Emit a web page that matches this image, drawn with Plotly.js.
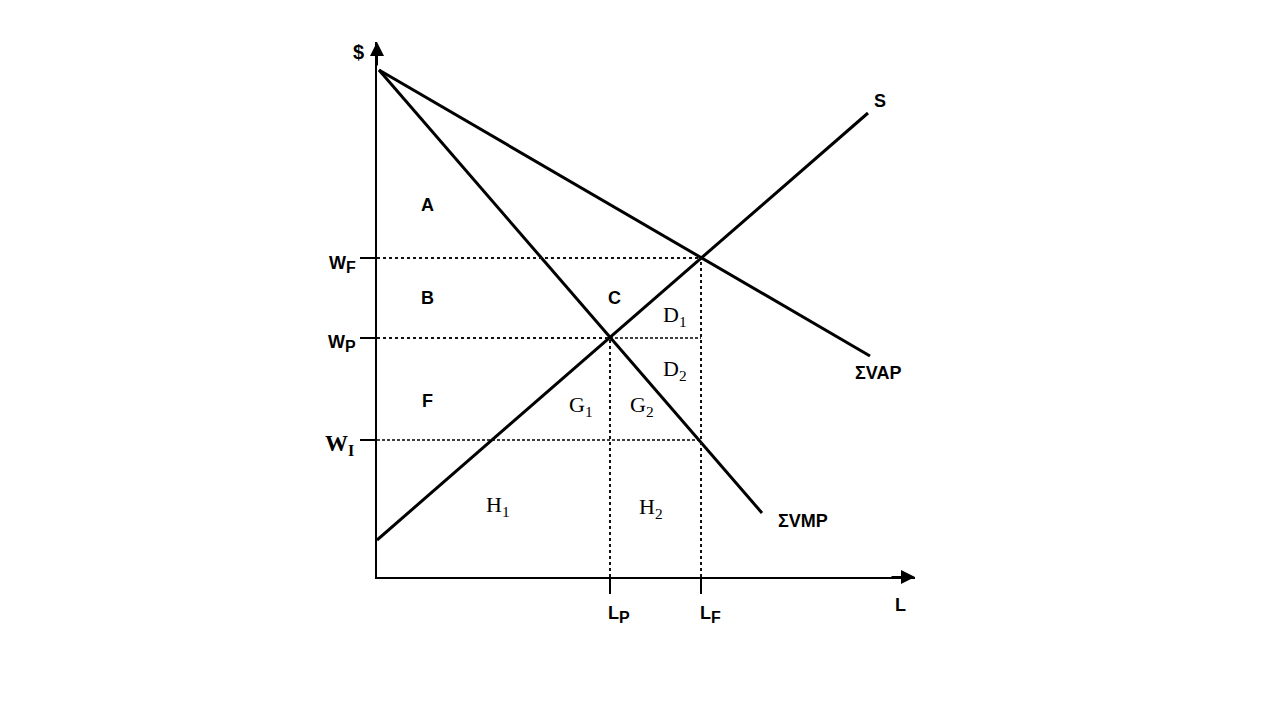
<!DOCTYPE html>
<html>
<head>
<meta charset="utf-8">
<script src="https://cdn.plot.ly/plotly-3.0.1.min.js"></script>
<style>html,body{margin:0;padding:0;background:#fff;}#chart{width:1280px;height:720px;}</style>
</head>
<body>
<div id="chart"></div>
<script>
// Wage levels ($ axis) and labour quantities (L axis), in chart units
const wageLevels = {WF: 6.38, WP: 4.78, WI: 2.74};
const laborLevels = {LP: 4.66, LF: 6.48};
const yTickLabels = ['W<sub>I</sub>', 'W<sub>P</sub>', 'W<sub>F</sub>'];
const xTickLabels = ['L<sub>P</sub>', 'L<sub>F</sub>'];

// Curves (two end points each)
const vapX = [0.04, 9.86];
const vapY = [10.14, 4.42];
const vmpX = [0.04, 7.7];
const vmpY = [10.14, 1.28];
const supX = [0.0, 9.82];
const supY = [0.74, 9.28];

const axisMaxX = 10.76;
const axisMaxY = 10.7;

const WF = wageLevels.WF, WP = wageLevels.WP, WI = wageLevels.WI;
const LP = laborLevels.LP, LF = laborLevels.LF;

const solid = {color: '#000', width: 3};
const dotted = {color: '#111', width: 2, dash: 'dot'};
const fine = {color: '#000', width: 1.5, dash: '3px,2px'};

const traces = [
  {x: vapX, y: vapY, mode: 'lines', line: solid},
  {x: vmpX, y: vmpY, mode: 'lines', line: solid},
  {x: supX, y: supY, mode: 'lines', line: solid},
  {x: [0, LF], y: [WF, WF], mode: 'lines', line: dotted},
  {x: [0, LP], y: [WP, WP], mode: 'lines', line: dotted},
  {x: [LP, LF], y: [WP, WP], mode: 'lines', line: fine},
  {x: [0, LF], y: [WI, WI], mode: 'lines', line: fine},
  {x: [LP, LP], y: [0, WP], mode: 'lines', line: dotted},
  {x: [LF, LF], y: [0, WF], mode: 'lines', line: dotted}
].map(t => Object.assign(t, {hoverinfo: 'skip', showlegend: false, cliponaxis: false}));

const sans = {family: 'Liberation Sans, Arial, sans-serif', size: 18, color: '#000', weight: 'bold'};
const sansBig = {family: 'Liberation Sans, Arial, sans-serif', size: 20, color: '#000', weight: 'bold'};
const serif = {family: 'Liberation Serif, Times New Roman, serif', size: 22, color: '#000'};
const serifBold = {family: 'Liberation Serif, Times New Roman, serif', size: 23, color: '#000', weight: 'bold'};

function bigSub(label) {
  // enlarge the subscript letter as in the reference
  return label.replace(/<sub>(.*?)<\/sub>/, '<sub><span style="font-size:16px">$1</span></sub>');
}

// labels placed in paper units converted from chart units (so they may sit outside the axes)
function lab(text, x, y, font, xanchor) {
  return {text: text, x: x / axisMaxX, y: y / axisMaxY, xref: 'paper', yref: 'paper', showarrow: false,
          font: font, xanchor: xanchor || 'center', yanchor: 'middle'};
}

const annotations = [
  lab('$', -0.38, 10.5, sansBig),
  lab('A', 1.0, 7.44, sans),
  lab('B', 1.0, 5.58, sans),
  lab('F', 1.0, 3.52, sans),
  lab('C', 4.74, 5.58, sans),
  lab('D<sub>1</sub>', 5.96, 5.22, serif),
  lab('D<sub>2</sub>', 5.96, 4.14, serif),
  lab('G<sub>1</sub>', 4.08, 3.42, serif),
  lab('G<sub>2</sub>', 5.3, 3.42, serif),
  lab('H<sub>1</sub>', 2.42, 1.42, serif),
  lab('H<sub>2</sub>', 5.48, 1.38, serif),
  lab('S', 10.06, 9.52, sans),
  lab('ΣVAP', 10.02, 4.08, sans),
  lab('ΣVMP', 8.52, 1.12, sans),
  lab(bigSub(yTickLabels[2]), -0.38, WF - 0.12, sans, 'right'),
  lab(bigSub(yTickLabels[1]), -0.38, WP - 0.12, sans, 'right'),
  lab(yTickLabels[0], -0.42, WI - 0.1, serifBold, 'right'),
  lab(bigSub(xTickLabels[0]), LP + 0.18, -0.74, sans),
  lab(bigSub(xTickLabels[1]), LF + 0.18, -0.74, sans),
  lab('L', 10.46, -0.56, sans),
  {x: axisMaxX, y: 0, ax: axisMaxX - 0.5, ay: 0, xref: 'x', yref: 'y', axref: 'x', ayref: 'y',
   text: '', showarrow: true, arrowhead: 2, arrowsize: 1.4, arrowwidth: 2, arrowcolor: '#000'},
  {x: 0, y: axisMaxY, ax: 0, ay: axisMaxY - 0.5, xref: 'x', yref: 'y', axref: 'x', ayref: 'y',
   text: '', showarrow: true, arrowhead: 2, arrowsize: 1.4, arrowwidth: 2, arrowcolor: '#000'}
];

const layout = {
  width: 1280, height: 720,
  margin: {l: 377, r: 365, t: 42, b: 143},
  paper_bgcolor: '#fff', plot_bgcolor: '#fff',
  showlegend: false,
  xaxis: {range: [0, axisMaxX], showgrid: false, zeroline: false, showline: true,
          linecolor: '#000', linewidth: 2, tickvals: [LP, LF], ticks: 'outside',
          ticklen: 15, tickwidth: 2, tickcolor: '#000', showticklabels: false, fixedrange: true},
  yaxis: {range: [0, axisMaxY], showgrid: false, zeroline: false, showline: true,
          linecolor: '#000', linewidth: 2, tickvals: [WI, WP, WF], ticks: 'outside',
          ticklen: 15, tickwidth: 2, tickcolor: '#000', showticklabels: false, fixedrange: true},
  annotations: annotations
};

Plotly.newPlot('chart', traces, layout, {displayModeBar: false});
</script>
</body>
</html>
